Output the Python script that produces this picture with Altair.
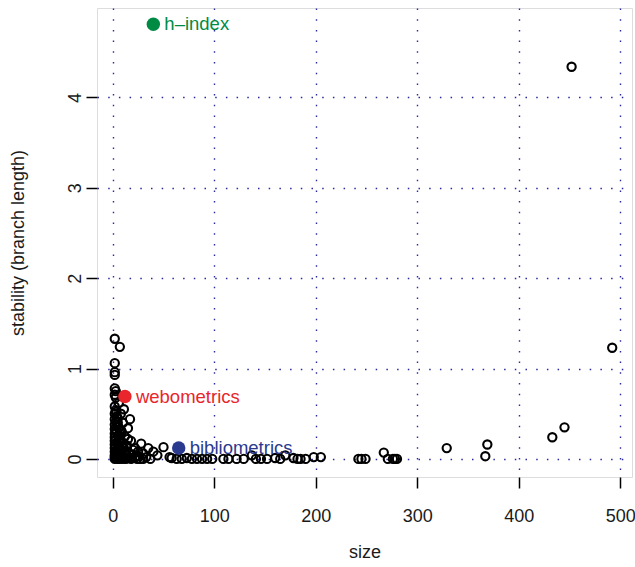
import altair as alt
import pandas as pd

# cluster sizes and their stability (branch length)
size = [2, 7, 2, 2, 2, 2, 3, 2, 3, 6, 2, 3, 2, 4, 2, 3, 2, 4, 2, 3, 2, 5, 2, 3, 2, 4, 2, 3, 2, 5, 2, 3, 2, 4, 2, 3, 2, 5,
        8, 10, 17, 15, 9, 12, 7, 10, 14, 6, 9, 12, 16, 20, 8, 11, 14, 18, 22, 25, 28, 22, 35, 40, 30, 33, 27, 7, 10, 13,
        24, 30, 37, 44, 50, 56, 6, 11, 5, 7, 18, 20, 15, 25,
        4, 6, 8, 5, 9, 12, 4, 7, 10, 13, 16, 19, 5, 8, 11, 3, 6,
        58, 63, 68, 73, 78, 83, 88, 93, 98, 109, 114, 122, 129, 137, 141, 146, 152, 160, 165, 170, 178, 182, 185, 190,
        198, 205, 242, 245, 249, 267, 271, 276, 278, 280, 329, 367, 369, 433, 445, 452, 492]
stability = [1.33, 1.24, 1.06, 0.96, 0.93, 0.78, 0.75, 0.71, 0.68, 0.62, 0.58, 0.54, 0.50, 0.47, 0.44, 0.41, 0.38, 0.36,
             0.33, 0.31, 0.28, 0.26, 0.24, 0.22, 0.20, 0.18, 0.16, 0.14, 0.12, 0.10, 0.08, 0.06, 0.04, 0.03, 0.02, 0.01,
             0.00, 0.00,
             0.50, 0.40, 0.44, 0.34, 0.30, 0.25, 0.22, 0.18, 0.15, 0.12, 0.10, 0.08, 0.06, 0.05, 0.04, 0.02, 0.01, 0.00,
             0.02, 0.03, 0.17, 0.12, 0.12, 0.08, 0.06, 0.02, 0.00, 0.00, 0.00, 0.00, 0.00, 0.00, 0.00, 0.04, 0.13, 0.02,
             0.35, 0.55, 0.45, 0.28, 0.20, 0.10, 0.22, 0.08,
             0.30, 0.26, 0.20, 0.16, 0.14, 0.05, 0.09, 0.07, 0.03, 0.04, 0.02, 0.01, 0.40, 0.32, 0.12, 0.52, 0.18,
             0.01, 0.00, 0.00, 0.01, 0.00, 0.00, 0.00, 0.00, 0.00, 0.00, 0.00, 0.00, 0.00, 0.04, 0.00, 0.00, 0.00, 0.01,
             0.00, 0.04, 0.01, 0.00, 0.00, 0.00, 0.02, 0.02, 0.00, 0.00, 0.00, 0.07, 0.00, 0.00, 0.00, 0.00, 0.12, 0.03,
             0.16, 0.24, 0.35, 4.34, 1.23]

# highlighted topics
topic = ["h\u2013index", "webometrics", "bibliometrics"]
topic_size = [40, 12, 65]
topic_stability = [4.81, 0.69, 0.12]
topic_color = ["#008B45", "#E8262B", "#2A3A8F"]

x_ticks = [0, 100, 200, 300, 400, 500]
y_ticks = [0, 1, 2, 3, 4]

pts = pd.DataFrame({"size": size, "stability": stability})
hl = pd.DataFrame({"size": topic_size, "stability": topic_stability, "topic": topic, "color": topic_color})

FONT = "Liberation Sans"

xs = alt.Scale(domain=[-15.5, 511.5], nice=False, zero=False)
ys = alt.Scale(domain=[-0.2, 4.99], nice=False, zero=False)

x_axis = alt.Axis(values=x_ticks, format="d", title="size", grid=True, domain=False,
                  gridColor="#2a2aa0", gridDash=[1.5, 9.2], gridWidth=1.4, gridOpacity=1,
                  tickColor="black", tickWidth=1.5, tickSize=11,
                  labelFont=FONT, labelFontSize=18, labelColor="#1a1a1a", labelPadding=19,
                  titleFont=FONT, titleFontSize=18, titleFontWeight="normal", titleColor="#1a1a1a",
                  titleBaseline="middle", titleY=75, labelFlush=False)
y_axis = alt.Axis(values=y_ticks, format="d", title="stability (branch length)", grid=True, domain=False,
                  gridColor="#2a2aa0", gridDash=[1.5, 9.2], gridWidth=1.4, gridOpacity=1,
                  tickColor="black", tickWidth=1.5, tickSize=11,
                  labelFont=FONT, labelFontSize=18, labelColor="#1a1a1a", labelAngle=270, labelPadding=2,
                  labelFlush=False,
                  titleFont=FONT, titleFontSize=18, titleFontWeight="normal", titleColor="#1a1a1a",
                  titleAngle=270, titleBaseline="middle", titleX=-79, titleY=234.5, titleAlign="center")

base = alt.Chart(pts).mark_point(shape="circle", filled=False, color="black", strokeWidth=2.1,
                                   size=68, opacity=1).encode(
    x=alt.X("size:Q", scale=xs, axis=x_axis),
    y=alt.Y("stability:Q", scale=ys, axis=y_axis),
)

hl_pts = alt.Chart(hl).mark_circle(size=180, opacity=1).encode(
    x=alt.X("size:Q", scale=xs),
    y=alt.Y("stability:Q", scale=ys),
    color=alt.Color("color:N", scale=None),
)

hl_txt = alt.Chart(hl).mark_text(align="left", baseline="middle", dx=11, font=FONT, fontSize=18.5).encode(
    x=alt.X("size:Q", scale=xs),
    y=alt.Y("stability:Q", scale=ys),
    text="topic:N",
    color=alt.Color("color:N", scale=None),
)

chart = alt.layer(base, hl_pts, hl_txt).properties(
    width=535, height=469,
    autosize=alt.AutoSizeParams(type="none"),
    padding={"left": 97, "top": 8, "right": 3, "bottom": 90},
).configure_view(stroke="black", strokeWidth=1.6).configure(background="white")

chart.save("out.html", embed_options={"renderer": "svg", "actions": False})
